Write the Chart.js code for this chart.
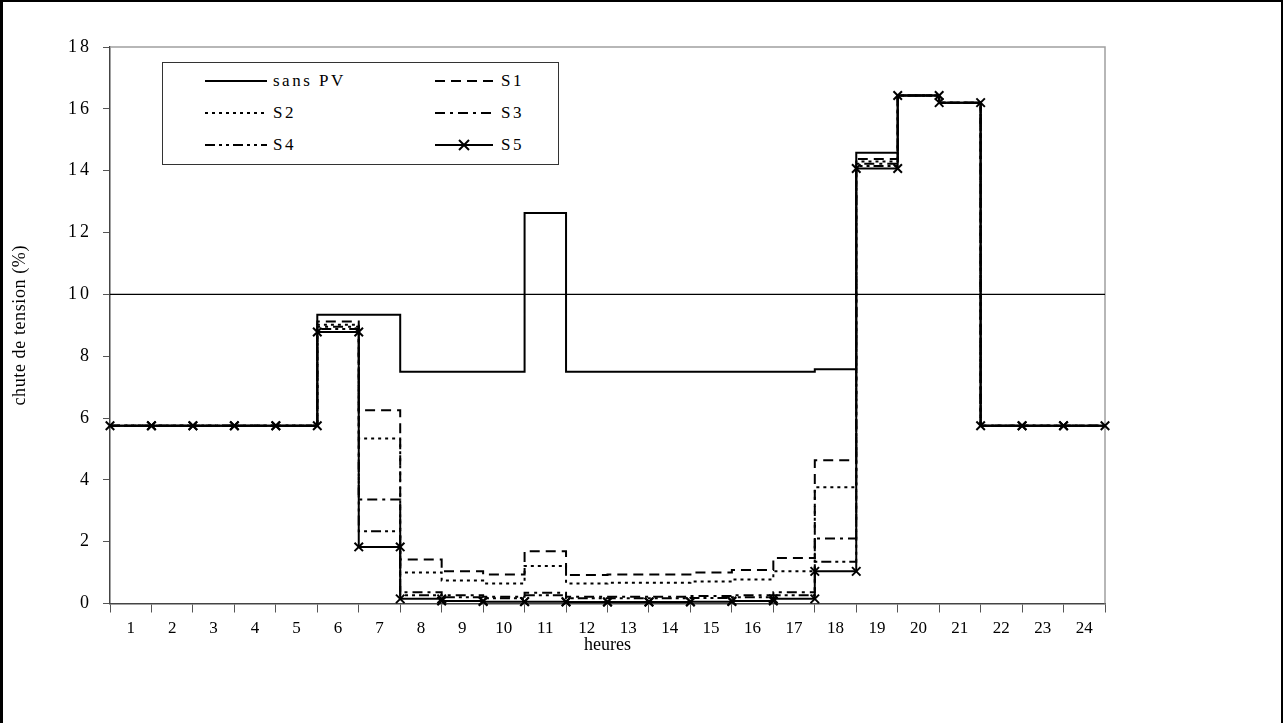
<!DOCTYPE html>
<html>
<head>
<meta charset="utf-8">
<script src="https://cdn.jsdelivr.net/npm/chart.js@4.4.1/dist/chart.umd.min.js"></script>
<style>
html,body{margin:0;padding:0;background:#fff;width:1283px;height:723px;overflow:hidden;}
#wrap{position:relative;width:1283px;height:723px;}
#c{position:absolute;left:0;top:0;}
#frame{position:absolute;left:0;top:0;width:1278px;height:780px;border:2px solid #000;border-left-width:3px;pointer-events:none;}
#legend{position:absolute;left:162px;top:62px;width:395px;height:101px;border:1px solid #333;background:#fff;font-family:"Liberation Serif","Times New Roman",serif;font-size:17px;letter-spacing:2.5px;color:#000;}
.item{position:absolute;height:24px;display:flex;align-items:center;white-space:nowrap;}
.item svg{display:block;}
.item span{position:absolute;top:0;line-height:24px;}
</style>
</head>
<body>
<div id="wrap">
  <canvas id="c" width="1283" height="723"></canvas>
  <div id="legend"></div>
  <div id="frame"></div>
</div>
<script>
// ---- data ----
const hourLabels = ['1','2','3','4','5','6','7','8','9','10','11','12','13','14','15','16','17','18','19','20','21','22','23','24'];
const sansPV = [5.75,5.75,5.75,5.75,5.75,9.34,9.34,7.5,7.5,7.5,12.63,7.5,7.5,7.5,7.5,7.5,7.5,7.58,14.58,16.43,16.2,5.75,5.75,5.75];
const s1     = [5.75,5.75,5.75,5.75,5.75,9.12,6.25,1.42,1.04,0.94,1.69,0.92,0.94,0.94,1.0,1.08,1.47,4.63,14.38,16.43,16.2,5.75,5.75,5.75];
const s2     = [5.75,5.75,5.75,5.75,5.75,9.02,5.34,1.0,0.74,0.65,1.21,0.65,0.67,0.67,0.71,0.78,1.04,3.76,14.3,16.43,16.2,5.75,5.75,5.75];
const s3     = [5.75,5.75,5.75,5.75,5.75,8.95,3.36,0.36,0.27,0.22,0.35,0.22,0.22,0.22,0.24,0.27,0.36,2.1,14.22,16.43,16.2,5.75,5.75,5.75];
const s4     = [5.75,5.75,5.75,5.75,5.75,8.88,2.34,0.27,0.2,0.17,0.27,0.17,0.17,0.17,0.18,0.2,0.27,1.35,14.15,16.43,16.2,5.75,5.75,5.75];
const s5     = [5.75,5.75,5.75,5.75,5.75,8.78,1.83,0.15,0.08,0.06,0.06,0.05,0.05,0.05,0.06,0.08,0.15,1.04,14.07,16.43,16.2,5.75,5.75,5.75];
const limitValue = [10];
const seriesNames = ['sans PV','S1','S2','S3','S4','S5'];

// step shape: each hour is a flat segment from its start to its end
function steps(vals){
  const pts = [];
  vals.forEach((v,i)=>{ pts.push({x:i,y:v}); pts.push({x:i+1,y:v}); });
  return pts;
}
function flat(v){ return [{x:0,y:v},{x:hourLabels.length,y:v}]; }

const styles = {
  'sans PV': {dash:[]},
  'S1': {dash:[10,6]},
  'S2': {dash:[3,4]},
  'S3': {dash:[10,5,3,5]},
  'S4': {dash:[10,4,3,4,3,4]},
  'S5': {dash:[]}
};
const seriesData = {'sans PV':sansPV,'S1':s1,'S2':s2,'S3':s3,'S4':s4,'S5':s5};

const drawOrder = ['S5','sans PV','S1','S2','S3','S4'];
const datasets = drawOrder.map(name => ({
  label: name,
  data: steps(seriesData[name]),
  borderColor:'#000',
  backgroundColor:'#000',
  borderWidth:2,
  borderDash: styles[name].dash,
  pointRadius: name==='S5' ? 6 : 0,
  pointStyle:'crossRot',
  pointBorderWidth:2,
  pointBorderColor:'#000',
  clip:false,
  tension:0
}));
datasets.push({label:'limite',data:flat(limitValue[0]),borderColor:'#000',borderWidth:1.2,pointRadius:0});

const serif = 'Liberation Serif';
const plotFrame = {
  id:'plotFrame',
  beforeDraw(chart){
    // letter spacing like the reference's spaced-out serif text
    const y = chart.scales.y;
    if (y && !y._spaced){
      const ctx = chart.ctx;
      const oL = y.drawLabels.bind(y), oT = y.drawTitle.bind(y);
      y.drawLabels = (a)=>{ ctx.save(); ctx.letterSpacing='3px'; oL(a); ctx.restore(); };
      y.drawTitle = ()=>{ ctx.save(); ctx.letterSpacing='0.6px'; oT(); ctx.restore(); };
      y._spaced = true;
    }
  },
  beforeDatasetsDraw(chart){
    const {ctx, chartArea:a} = chart;
    ctx.save();
    ctx.strokeStyle = '#a0a0a0';
    ctx.lineWidth = 1.5;
    ctx.beginPath();
    ctx.moveTo(a.left, a.top); ctx.lineTo(a.right, a.top); ctx.lineTo(a.right, a.bottom);
    ctx.stroke();
    ctx.restore();
  }
};

new Chart(document.getElementById('c'), {
  type:'line',
  data:{datasets},
  options:{
    responsive:false,
    animation:false,
    devicePixelRatio:1,
    parsing:false,
    layout:{padding:{left:0,top:47,right:178,bottom:59.5}},
    plugins:{legend:{display:false},tooltip:{enabled:false}},
    scales:{
      x:{
        type:'linear', min:0, max:24, position:'bottom',
        ticks:{stepSize:1, autoSkip:false, maxRotation:0, labelOffset:20.7, padding:6,
          font:{family:serif,size:17}, color:'#000',
          callback:(v)=> (hourLabels[v] !== undefined ? hourLabels[v] : '')},
        grid:{drawOnChartArea:false, tickLength:9, color:'#555'},
        border:{color:'#444', width:1.5},
        title:{display:true, text:'heures', font:{family:serif,size:18}, color:'#000', padding:{top:0,bottom:7}},
        afterFit:(s)=>{ s.height = 60; }
      },
      y:{
        min:0, max:18,
        ticks:{stepSize:2, padding:11, font:{family:serif,size:18}, color:'#000'},
        grid:{drawOnChartArea:false, tickLength:7, color:'#555'},
        border:{color:'#444', width:1.5},
        title:{display:true, text:'chute de tension (%)', font:{family:serif,size:18}, color:'#000', padding:{top:9,bottom:0}},
        afterFit:(s)=>{ s.width = 110; }
      }
    }
  },
  plugins:[plotFrame]
});

// ---- legend box (HTML) ----
const legendLayout = [
  {name:'sans PV', col:0, row:0}, {name:'S1', col:1, row:0},
  {name:'S2', col:0, row:1},      {name:'S3', col:1, row:1},
  {name:'S4', col:0, row:2},      {name:'S5', col:1, row:2}
];
const colSample = [42, 272], colText = [110, 338], sampleW = [62, 58];
const rowCenter = [18, 50, 82];
const lg = document.getElementById('legend');
legendLayout.forEach(it=>{
  const d = document.createElement('div');
  d.className='item';
  d.style.left = colSample[it.col]+'px';
  d.style.top = (rowCenter[it.row]-12)+'px';
  const w = sampleW[it.col];
  const dash = styles[it.name].dash.join(',');
  let svg = `<svg width="${w}" height="24"><line x1="0" y1="12" x2="${w}" y2="12" stroke="#000" stroke-width="2" ${dash?`stroke-dasharray="${dash}"`:''}/>`;
  if (it.name==='S5') svg += `<line x1="${w/2-5}" y1="7" x2="${w/2+5}" y2="17" stroke="#000" stroke-width="2"/><line x1="${w/2-5}" y1="17" x2="${w/2+5}" y2="7" stroke="#000" stroke-width="2"/>`;
  svg += '</svg>';
  d.innerHTML = svg + `<span style="left:${colText[it.col]-colSample[it.col]}px">${it.name}</span>`;
  lg.appendChild(d);
});
</script>
</body>
</html>
